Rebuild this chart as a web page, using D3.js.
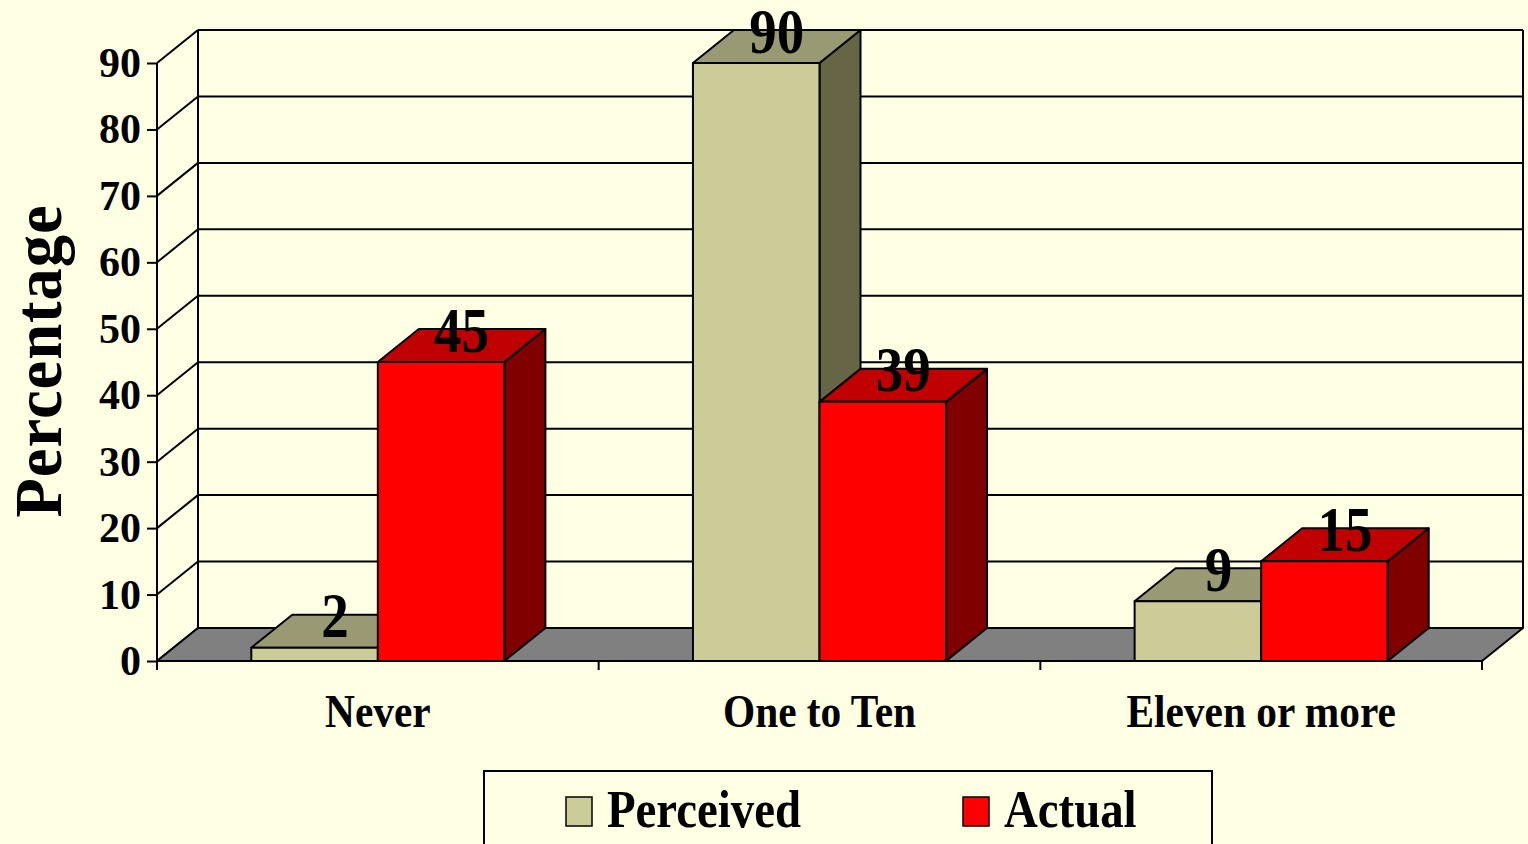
<!DOCTYPE html>
<html>
<head>
<meta charset="utf-8">
<script src="https://cdn.jsdelivr.net/npm/d3@7"></script>
<style>
  html, body { margin: 0; padding: 0; background: #ffffe3; }
  svg { display: block; }
  text { font-family: "Liberation Serif", "Times New Roman", serif; font-weight: bold; fill: #000; }
</style>
</head>
<body>
<svg id="chart" width="1528" height="844"></svg>
<script>
// data
const categories = ["Never", "One to Ten", "Eleven or more"];
const seriesNames = ["Perceived", "Actual"];
const perceived = [2, 90, 9];
const actual = [45, 39, 15];
const yTicks = [0, 10, 20, 30, 40, 50, 60, 70, 80, 90];
const yTitle = "Percentage";

const series = [
  { name: seriesNames[0], values: perceived, front: "#cccc99", top: "#999973", side: "#666647" },
  { name: seriesNames[1], values: actual, front: "#ff0000", top: "#c00000", side: "#800000" }
];

const svg = d3.select("#chart");
const bg = "#ffffe3";

// depth offset of the 3d box
const dx = 41, dy = -33;

const x = d3.scaleBand().domain(categories).range([157, 1482]).padding(0);
const xs = d3.scaleBand().domain(seriesNames).range([0, x.bandwidth()])
  .paddingInner(0).paddingOuter(0.745);
const y = d3.scaleLinear().domain([0, 90]).range([661, 63]);

const x0 = x.range()[0], x1 = x.range()[1];
const yb = y(0);

// scaled text helper (the original font is a bit narrower)
function stext(g, str, px, py, size, sx, anchor) {
  return g.append("text")
    .attr("transform", "translate(" + px + "," + py + ") scale(" + sx + ",1)")
    .attr("text-anchor", anchor || "middle")
    .style("font-size", size + "px")
    .text(str);
}

// walls and gridlines
const walls = svg.append("g").attr("stroke", "#000").attr("stroke-width", 2).attr("fill", "none");
yTicks.forEach(function (t) {
  const yy = y(t);
  walls.append("line").attr("x1", x0).attr("y1", yy).attr("x2", x0 + dx).attr("y2", yy + dy);
  if (t > 0) {
    walls.append("line").attr("x1", x0 + dx).attr("y1", yy + dy).attr("x2", x1 + dx).attr("y2", yy + dy);
  }
});
walls.append("line").attr("x1", x0 + dx).attr("y1", y(90) + dy).attr("x2", x0 + dx).attr("y2", yb + dy);
walls.append("line").attr("x1", x1 + dx).attr("y1", y(90) + dy).attr("x2", x1 + dx).attr("y2", yb + dy);

// floor
svg.append("polygon")
  .attr("points", [[x0, yb], [x1, yb], [x1 + dx, yb + dy], [x0 + dx, yb + dy]].join(" "))
  .attr("fill", "#808080").attr("stroke", "#000").attr("stroke-width", 2)
  .attr("stroke-linejoin", "round");

// bars
const bars = svg.append("g").attr("stroke", "#000").attr("stroke-width", 2).attr("stroke-linejoin", "round");
const labels = [];
categories.forEach(function (c, i) {
  series.forEach(function (s) {
    const v = s.values[i];
    const bx = x(c) + xs(s.name);
    const w = xs.bandwidth();
    const yt = y(v);
    bars.append("polygon")
      .attr("points", [[bx + w, yt], [bx + w + dx, yt + dy], [bx + w + dx, yb + dy], [bx + w, yb]].join(" "))
      .attr("fill", s.side);
    bars.append("polygon")
      .attr("points", [[bx, yt], [bx + dx, yt + dy], [bx + w + dx, yt + dy], [bx + w, yt]].join(" "))
      .attr("fill", s.top);
    bars.append("rect")
      .attr("x", bx).attr("y", yt).attr("width", w).attr("height", yb - yt)
      .attr("fill", s.front);
    labels.push({ v: v, cx: bx + (w + dx) / 2, cy: yt + dy / 2 });
  });
});

// value labels
const lab = svg.append("g");
labels.forEach(function (d) {
  stext(lab, d.v, d.cx, d.cy + 6, 64, 0.86);
});

// y axis
const yAxis = d3.axisLeft(y).tickValues(yTicks).tickSize(10).tickPadding(6).tickSizeOuter(0);
const ya = svg.append("g").attr("transform", "translate(" + x0 + ",0)").call(yAxis);
ya.selectAll("path, line").attr("stroke", "#000").attr("stroke-width", 2);
ya.selectAll("text")
  .style("font-family", "'Liberation Serif', 'Times New Roman', serif")
  .style("font-weight", "bold").style("font-size", "42px").attr("fill", "#000");
ya.select(".domain").attr("d", "M0," + y(90) + "V" + (yb + 9));

// category axis
const xa = svg.append("g").attr("stroke", "#000").attr("stroke-width", 2);
categories.concat([null]).forEach(function (c) {
  const tx = c ? x(c) : x1;
  xa.append("line").attr("x1", tx).attr("y1", yb).attr("x2", tx).attr("y2", yb + 9);
});
const xl = svg.append("g");
categories.forEach(function (c) {
  stext(xl, c, x(c) + x.bandwidth() / 2, 727, 47, 0.88);
});

// y title
stext(svg.append("g").attr("transform", "translate(61,361) rotate(-90)"), yTitle, 0, 0, 68, 0.95)
  .style("letter-spacing", "1px");

// legend
const lg = svg.append("g");
lg.append("rect").attr("x", 484).attr("y", 771).attr("width", 728).attr("height", 100)
  .attr("fill", bg).attr("stroke", "#000").attr("stroke-width", 2);
const legX = [566, 963];
series.forEach(function (s, i) {
  lg.append("rect").attr("x", legX[i]).attr("y", 797).attr("width", 26).attr("height", 29)
    .attr("fill", s.front).attr("stroke", "#000").attr("stroke-width", 1.5);
  stext(lg, s.name, legX[i] + 41, 827, 52, 0.9, "start");
});
</script>
</body>
</html>
